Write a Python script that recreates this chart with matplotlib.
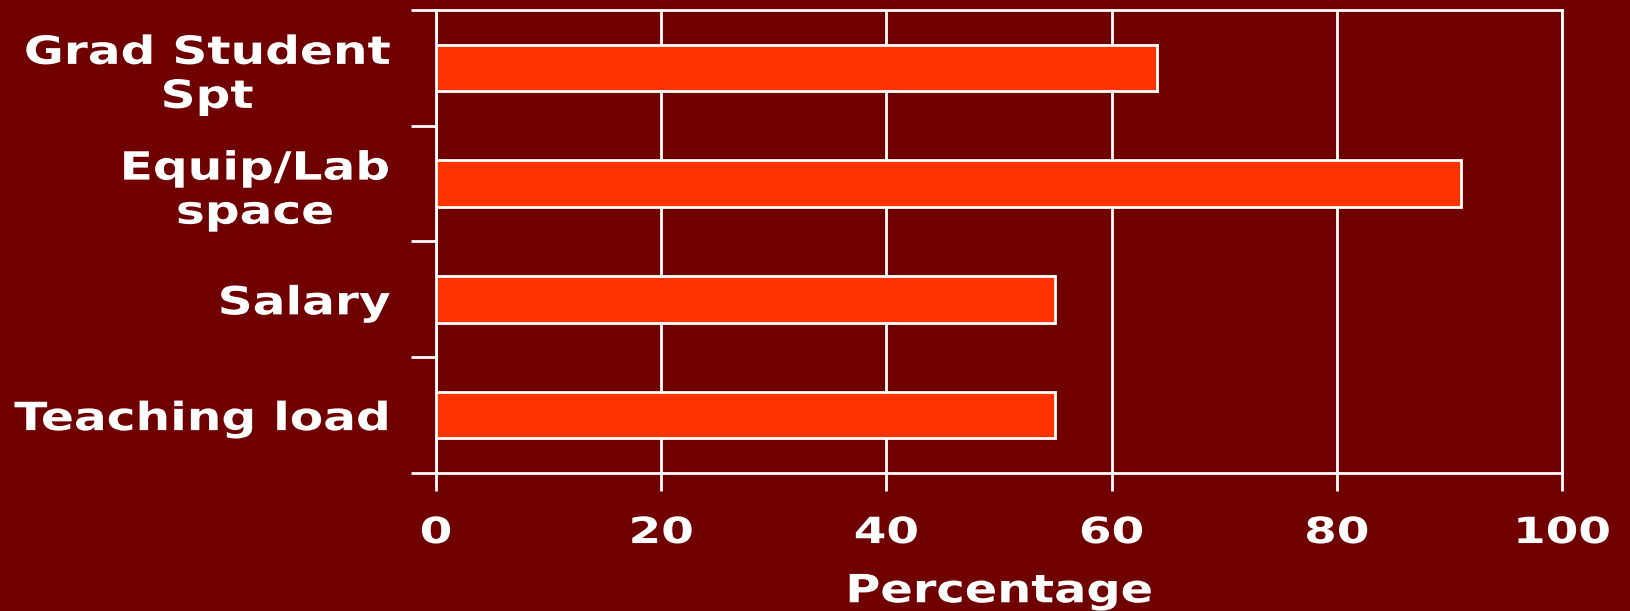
import matplotlib
matplotlib.use("Agg")
from matplotlib import pyplot as plt
from matplotlib.patheffects import AbstractPathEffect
from matplotlib.transforms import Affine2D
import numpy as np

categories = ["Grad Student\nSpt", "Equip/Lab\nspace", "Salary", "Teaching load"]
values = [64, 91, 55, 55]
xticks = [0, 20, 40, 60, 80, 100]

bg = "#700000"
bar_color = "#FF3300"


# the reference font is a wide bold sans; stretch text horizontally around its anchor
class Stretch(AbstractPathEffect):
    def __init__(self, text, sx):
        super().__init__()
        self.text = text
        self.sx = sx

    def draw_path(self, renderer, gc, tpath, affine, rgbFace=None):
        x0 = self.text.get_transform().transform(self.text.get_position())[0]
        aff = affine + Affine2D().translate(-x0, 0).scale(self.sx, 1).translate(x0, 0)
        renderer.draw_path(gc, tpath, aff, rgbFace)


plt.rcParams['font.family'] = ['DejaVu Sans']
plt.rcParams['font.weight'] = 'bold'

fig = plt.figure(figsize=(16.3, 6.11), dpi=100, facecolor=bg)
ax = fig.add_axes([436/1630, 1 - 473/611, (1562-436)/1630, (473-10)/611])
ax.set_facecolor(bg)

pos = np.arange(len(categories))
ax.barh(pos, values, height=0.4, color=bar_color, edgecolor="white", linewidth=2, zorder=3)

ax.set_xlim(0, 100)
ax.set_ylim(len(categories) - 0.5, -0.5)

ax.set_xticks(xticks)
ax.set_xticklabels([str(v) for v in xticks])
ax.xaxis.grid(True, color="white", linewidth=2, zorder=0)
ax.tick_params(axis='x', colors="white", length=13, width=2, labelsize=26, pad=18)

ax.set_yticks(np.arange(-0.5, len(categories), 1.0))
ax.set_yticklabels([""] * (len(categories) + 1))
ax.set_yticks(pos, minor=True)
ax.set_yticklabels(categories, minor=True, multialignment='center')
ax.tick_params(axis='y', which='major', colors="white", length=18, width=2)
ax.tick_params(axis='y', which='minor', colors="white", length=0, labelsize=28, pad=33)

for s in ax.spines.values():
    s.set_color("white")
    s.set_linewidth(2)

ax.set_xlabel("Percentage", color="white", fontsize=28, fontweight='bold', labelpad=16)

for t in ax.get_xticklabels():
    t.set_path_effects([Stretch(t, 1.3)])
for t in ax.get_yticklabels(minor=True):
    t.set_path_effects([Stretch(t, 1.25)])
ax.xaxis.label.set_path_effects([Stretch(ax.xaxis.label, 1.23)])

fig.savefig("out.png", dpi=100, facecolor=bg)
